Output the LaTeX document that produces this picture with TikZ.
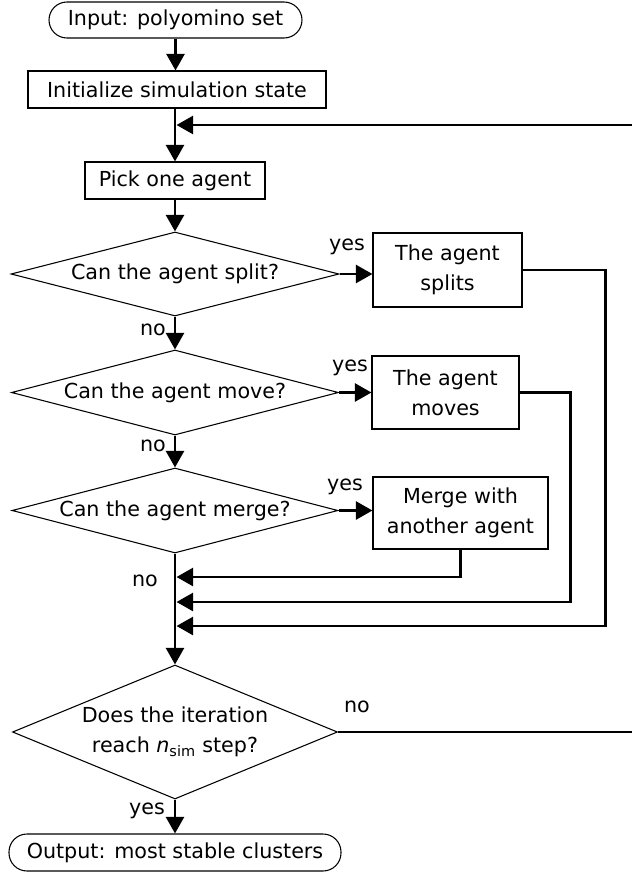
\documentclass[tikz,border=0pt]{standalone}
\usepackage{fontspec}
\setmainfont{DejaVu Sans}
\usetikzlibrary{shapes.geometric,arrows.meta}
\begin{document}
\begin{tikzpicture}[x=0.75pt,y=-0.75pt,
  every node/.style={font=\fontsize{15.5}{22.5}\selectfont},
  box/.style={draw,line width=0.8pt,inner sep=0pt,align=center},
  term/.style={box,rounded corners=13.5pt},
  dec/.style={draw,line width=0.8pt,shape=diamond,inner sep=0pt},
  conn/.style={line width=2.2pt},
  arr/.style={conn,-{Triangle[length=12.5pt,width=13.5pt]}},
  lbl/.style={inner sep=0pt}
]
\useasboundingbox (0,0) rectangle (632,875);

% nodes
\node[term,minimum width=189.75pt,minimum height=27pt] (in) at (175.5,20) {Input: polyomino set};
\node[box,minimum width=223.5pt,minimum height=27.75pt] (init) at (177,89.5) {Initialize simulation state};
\node[box,minimum width=135pt,minimum height=27.75pt] (pick) at (175,180.5) {Pick one agent};
\node[dec,minimum width=246pt,minimum height=63pt,label=center:{Can the agent split?}] (d1) at (175,274) {};
\node[dec,minimum width=245.25pt,minimum height=63.75pt,label=center:{Can the agent move?}] (d2) at (175,392.5) {};
\node[dec,minimum width=244.5pt,minimum height=63.75pt,label=center:{Can the agent merge?}] (d3) at (175,510.5) {};
\node[dec,minimum width=243.75pt,minimum height=100.5pt,
  label={[align=center]center:{Does the iteration\\reach {\itshape n}\textsubscript{sim} step?}}] (d4) at (175,732) {};
\node[box,minimum width=111.75pt,minimum height=55.5pt] (split) at (447.5,270) {The agent\\splits};
\node[box,minimum width=110.25pt,minimum height=54.75pt] (move) at (445.5,392.5) {The agent\\moves};
\node[box,minimum width=131.25pt,minimum height=54pt] (merge) at (460.5,513) {Merge with\\another agent};
\node[term,minimum width=249pt,minimum height=27.75pt] (out) at (175,852.5) {Output: most stable clusters};

% labels
\node[lbl] (y1) at (347,247) {yes};
\node[lbl] (n1) at (153,330) {no};
\node[lbl] (y2) at (350,368) {yes};
\node[lbl] (n2) at (153,446) {no};
\node[lbl] (y3) at (345,487) {yes};
\node[lbl] (n3) at (145,581) {no};
\node[lbl] (n4) at (357,707) {no};
\node[lbl] (y4) at (147,811) {yes};

% junction coordinates
\coordinate (jl) at (176.5,125);
\coordinate (j1) at (176.5,577);
\coordinate (j2) at (176.5,602);
\coordinate (j3) at (176.5,626);
\coordinate (eA) at (632,732);
\coordinate (eB) at (632,125);

% main flow
\draw[arr] (in.south) -- (in.south |- init.north);
\draw[arr] (init.south -| pick.north) -- (pick.north);
\draw[arr] (pick.south) -- (d1.north);
\draw[arr] (d1.south) -- (d2.north);
\draw[arr] (d2.south) -- (d3.north);
\draw[arr] (d3.south) -- (d4.north);
\draw[arr] (d4.south) -- (d4.south |- out.north);

% yes branches
\draw[arr] (d1.east) -- (d1.east -| split.west);
\draw[arr] (d2.east) -- (d2.east -| move.west);
\draw[arr] (d3.east) -- (d3.east -| merge.west);

% returns
\draw[arr] (merge.south) |- (j1);
\draw[arr] (move.east) -- ++(51,0) |- (j2);
\draw[arr] (split.east) -- ++(83,0) |- (j3);

% loop
\draw[conn] (d4.east) -- (eA);
\draw[arr] (eB) -- (jl);
\end{tikzpicture}
\end{document}
